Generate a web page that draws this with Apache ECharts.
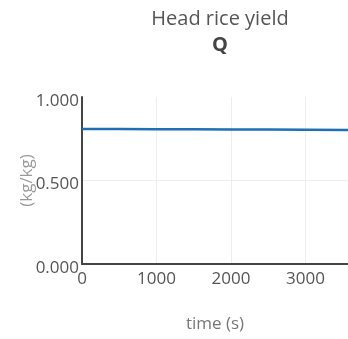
<!DOCTYPE html>
<html><head><meta charset="utf-8">
<script src="https://cdn.jsdelivr.net/npm/echarts@6/dist/echarts.min.js"></script>
<style>html,body{margin:0;padding:0;background:#fff}#c{width:348px;height:339px}</style>
</head><body><div id="c"></div>
<script>
const timeS = [0, 500, 1000, 1500, 2000, 2500, 3000, 3570];
const yieldQ = [0.808, 0.808, 0.807, 0.807, 0.806, 0.805, 0.804, 0.803];
const yTicks = [0, 0.5, 1.0];
const xTicks = [0, 1000, 2000, 3000];

const chart = echarts.init(document.getElementById('c'), null, {renderer: 'canvas'});
const font = '"Open Sans", sans-serif';
chart.setOption({
  animation: false,
  title: {
    text: 'Head rice yield\n{b|Q}',
    left: 215, top: 1, textAlign: 'center',
    textStyle: {fontFamily: font, fontSize: 20, fontWeight: 'normal', color: '#555', lineHeight: 26,
      rich: {b: {fontFamily: font, fontSize: 20, fontWeight: 'bold', color: '#444', lineHeight: 26}}}
  },
  grid: {left: 82, right: 0, top: 97, bottom: 75, containLabel: false},
  xAxis: {
    type: 'value', min: 0, max: 3570, interval: 1000,
    name: 'time (s)', nameLocation: 'middle', nameGap: 52, nameMoveOverlap: false,
    nameTextStyle: {fontFamily: font, fontSize: 17, color: '#777'},
    axisLine: {show: true, lineStyle: {color: '#444', width: 2}},
    axisTick: {show: false},
    axisLabel: {fontFamily: font, fontSize: 17, color: '#555', margin: 7, showMaxLabel: false,
      formatter: v => String(v)},
    splitLine: {show: true, lineStyle: {color: '#eee', width: 1}}
  },
  yAxis: {
    type: 'value', min: 0, max: 1, interval: 0.5,
    name: '(kg/kg)', nameLocation: 'middle', nameGap: 46, nameMoveOverlap: false,
    nameTextStyle: {fontFamily: font, fontSize: 17, color: '#999'},
    axisLine: {show: true, lineStyle: {color: '#444', width: 2}},
    axisTick: {show: false},
    axisLabel: {fontFamily: font, fontSize: 17, color: '#555', margin: 3,
      formatter: v => v.toFixed(3), verticalAlign: 'top', lineHeight: 8},
    splitLine: {show: true, lineStyle: {color: ['#eee', '#eee', 'rgba(0,0,0,0)'], width: 1}}
  },
  series: [{
    type: 'line', data: timeS.map((t, i) => [t, yieldQ[i]]),
    showSymbol: false, lineStyle: {color: '#1f6fb4', width: 2.5}
  }]
});
</script></body></html>
